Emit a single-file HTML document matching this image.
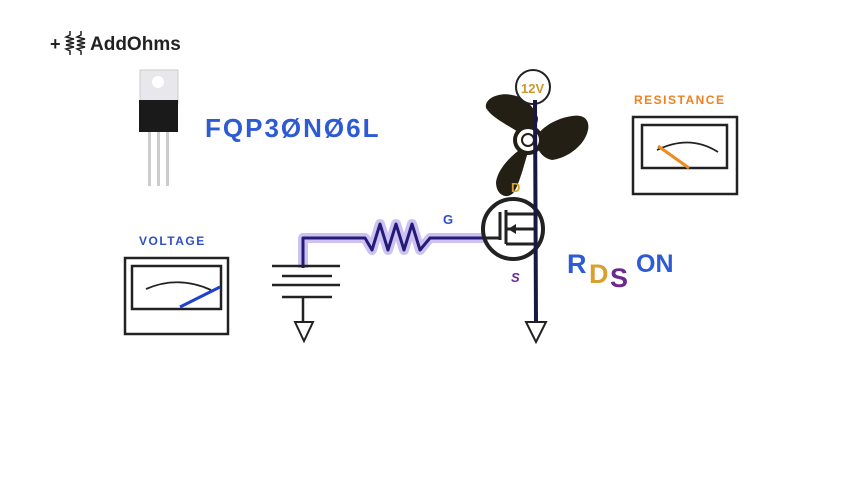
<!DOCTYPE html>
<html><head><meta charset="utf-8"><style>
html,body{margin:0;padding:0;background:#fff;}
svg{display:block;}
text{font-family:"Liberation Sans",sans-serif;font-weight:bold;}
</style></head><body>
<svg width="854" height="480" viewBox="0 0 854 480" xmlns="http://www.w3.org/2000/svg">
<rect width="854" height="480" fill="#fff"/>
<!-- logo -->
<text x="50" y="50" font-size="18" fill="#222">+</text>
<g stroke="#222" stroke-width="1.5" fill="none">
<path d="M70 31 v4 l-4 2 l8 2 l-8 2 l8 2 l-8 2 l8 2 l-8 2 l4 2 v4"/>
<path d="M81 31 v4 l-4 2 l8 2 l-8 2 l8 2 l-8 2 l8 2 l-8 2 l4 2 v4"/>
</g>
<text x="90" y="50" font-size="19" fill="#222">AddOhms</text>
<!-- transistor -->
<rect x="148" y="130" width="3" height="56" fill="#ccc"/>
<rect x="157" y="130" width="3" height="56" fill="#ccc"/>
<rect x="166" y="130" width="3" height="56" fill="#ccc"/>
<rect x="140" y="70" width="38" height="34" fill="#e8e8ec" stroke="#ccc"/>
<circle cx="158" cy="82" r="6" fill="#fff"/>
<rect x="139" y="100" width="39" height="32" fill="#1a1a1a"/>
<text x="205" y="137" font-size="26" fill="#2d5bd6" letter-spacing="2">FQP3ØNØ6L</text>
<!-- voltage meter -->
<text x="139" y="245" font-size="12" fill="#2d4fc4" letter-spacing="1.5">VOLTAGE</text>
<rect x="125" y="258" width="103" height="76" fill="none" stroke="#222" stroke-width="2.5"/>
<rect x="132" y="266" width="89" height="43" fill="none" stroke="#222" stroke-width="2.5"/>
<path d="M146 289 Q178 275 211 290" fill="none" stroke="#222" stroke-width="1.8"/>
<path d="M180 307 L220 287" stroke="#2040d0" stroke-width="3"/>
<!-- resistance meter -->
<text x="634" y="104" font-size="12" fill="#f08020" letter-spacing="1.5">RESISTANCE</text>
<rect x="633" y="117" width="104" height="77" fill="none" stroke="#222" stroke-width="2.5"/>
<rect x="642" y="125" width="85" height="43" fill="none" stroke="#222" stroke-width="2.5"/>
<path d="M657 150 Q690 134 718 152" fill="none" stroke="#222" stroke-width="1.8"/>
<path d="M658 146 L689 168" stroke="#f08a20" stroke-width="3"/>
<!-- glow wire -->
<path d="M303 268 V238 H365 L372 250 L380 224 L388 250 L396 224 L404 250 L412 224 L420 250 L430 238 H485" fill="none" stroke="#b8a8e8" stroke-width="10" stroke-linejoin="round" opacity="0.7"/>
<path d="M303 268 V238 H365 L372 250 L380 224 L388 250 L396 224 L404 250 L412 224 L420 250 L430 238 H485" fill="none" stroke="#241a7a" stroke-width="3" stroke-linejoin="round"/>
<!-- battery -->
<g stroke="#222" stroke-width="2.5">
<line x1="272" y1="266" x2="340" y2="266"/>
<line x1="282" y1="276" x2="332" y2="276"/>
<line x1="272" y1="285" x2="340" y2="285"/>
<line x1="282" y1="297" x2="332" y2="297"/>
<line x1="303" y1="297" x2="303" y2="322"/>
</g>
<path d="M295 322 H313 L304 341 Z" fill="#fff" stroke="#222" stroke-width="2"/>
<!-- fan -->
<g fill="#231f14">
<path d="M518 132 C508 125 492 118 486 108 C484 98 500 92 512 95 C525 97 535 108 538 118 C538 126 532 132 526 134 Z"/>
<path d="M538 134 C545 125 558 118 572 116 C584 114 590 120 588 130 C585 145 568 158 552 160 C542 158 538 150 536 144 Z"/>
<path d="M522 148 C512 155 498 168 496 182 C496 196 508 200 514 192 C520 182 524 165 528 152 Z"/>
</g>
<circle cx="528" cy="140" r="13" fill="#fff" stroke="#231f14" stroke-width="4"/>
<circle cx="528" cy="140" r="6" fill="none" stroke="#231f14" stroke-width="2"/>
<!-- 12V -->
<circle cx="533" cy="87" r="17" fill="#fff" stroke="#222" stroke-width="2"/>
<text x="521" y="93" font-size="13" fill="#c89a30">12V</text>
<!-- mosfet -->
<circle cx="513" cy="229" r="30" fill="none" stroke="#222" stroke-width="4"/>
<g stroke="#222" stroke-width="3">
<line x1="485" y1="238" x2="500" y2="238"/>
<line x1="500" y1="212" x2="500" y2="240"/>
<line x1="506" y1="210" x2="506" y2="244"/>
<line x1="506" y1="214" x2="535" y2="214"/>
<line x1="506" y1="229" x2="535" y2="229"/>
<line x1="506" y1="244" x2="535" y2="244"/>
</g>
<path d="M508 229 L516 224 L516 234 Z" fill="#222"/>
<line x1="535" y1="100" x2="536" y2="322" stroke="#1a1840" stroke-width="4"/>
<path d="M526 322 H546 L536 342 Z" fill="#fff" stroke="#222" stroke-width="2"/>
<text x="511" y="192" font-size="13" fill="#d9a030">D</text>
<text x="443" y="224" font-size="13" fill="#2d4fc4">G</text>
<text x="511" y="282" font-size="13" fill="#6a2a90" font-style="italic">S</text>
<!-- RDSON -->
<text x="567" y="273" font-size="27" fill="#2d5bd6">R</text>
<text x="589" y="283" font-size="27" fill="#d9a030">D</text>
<text x="610" y="287" font-size="27" fill="#6a2a90">S</text>
<text x="636" y="272" font-size="25" fill="#2d5bd6">ON</text>
</svg>
</body></html>
